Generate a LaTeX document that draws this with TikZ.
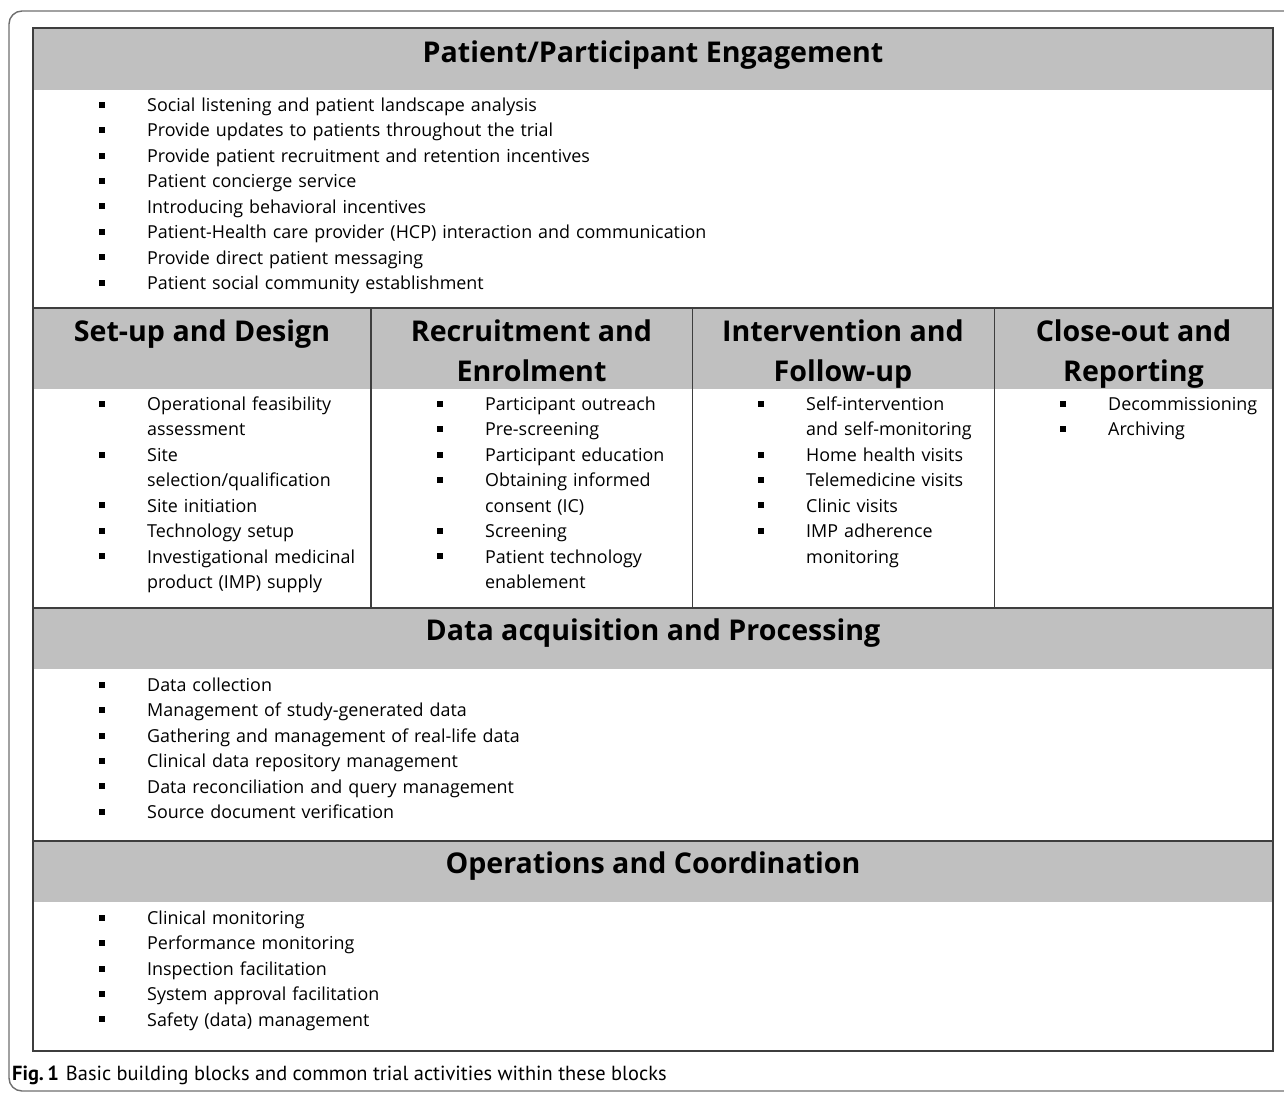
\documentclass[tikz,border=0pt]{standalone}
\usepackage{fontspec}
\setmainfont{Open Sans}
\newfontfamily\capfont{PT Sans}
\usetikzlibrary{positioning}

\definecolor{bandgray}{RGB}{192,192,192}
\definecolor{rulegray}{RGB}{62,62,62}
\definecolor{framegray}{RGB}{110,110,110}

\newcommand{\headfont}{\bfseries\fontsize{28.6}{40}\selectfont}
\newcommand{\itemfont}{\fontsize{17.9}{25.45}\selectfont}
\newcommand{\itm}[1]{\par\noindent\strut\llap{\raisebox{3.7pt}{\rule{6pt}{6pt}}\hspace{42.5pt}}#1}

\begin{document}
\begin{tikzpicture}[x=1pt,y=-1pt,
    band/.style={fill=bandgray},
    rule/.style={draw=rulegray, line width=1.6pt},
    head/.style={font=\headfont, align=center, inner sep=0pt, anchor=north},
    items/.style={font=\itemfont, align=left, text width=#1, inner sep=0pt, anchor=north west}]
    % Page size and outer frame
    \useasboundingbox (0,0) rectangle (1284,1092);
    \clip (0,0) rectangle (1284,1092);
    \draw[framegray, line width=1.4pt, rounded corners=13pt] (9,11) rectangle (1310,1091);

    % Grey header bands
    \fill[band] (33,28) rectangle (1273,90);
    \fill[band] (33,308) rectangle (1273,389);
    \fill[band] (33,608) rectangle (1273,669);
    \fill[band] (33,841) rectangle (1273,902);

    % Table rules
    \draw[rule] (33,28) rectangle (1273,1051);
    \draw[rule] (33,308) -- (1273,308);
    \draw[rule] (33,608) -- (1273,608);
    \draw[rule] (33,841) -- (1273,841);
    \foreach \x in {371,692.5,994.5}
        \draw[rule] (\x,308) -- (\x,608);

    % Block headings
    \node[head] (engage) at (653,34) {\strut Patient/Participant Engagement};
    \node[head] (setup) at (202,313) {\strut Set-up and Design};
    \node[head] (recruit) at (531.5,313) {\strut Recruitment and\\Enrolment};
    \node[head] (interv) at (843,313) {\strut Intervention and\\Follow-up};
    \node[head] (closeout) at (1133.5,313) {\strut Close-out and\\Reporting};
    \node[head] (dataacq) at (653,612) {\strut Data acquisition and Processing};
    \node[head] (operations) at (653,845) {\strut Operations and Coordination};

    % Activities within the blocks
    \node[items=900pt] (engageitems) at (147,85.7) {%
        \itm{Social listening and patient landscape analysis}
        \itm{Provide updates to patients throughout the trial}
        \itm{Provide patient recruitment and retention incentives}
        \itm{Patient concierge service}
        \itm{Introducing behavioral incentives}
        \itm{Patient-Health care provider (HCP) interaction and communication}
        \itm{Provide direct patient messaging}
        \itm{Patient social community establishment}};
    \node[items=300pt] (setupitems) at (147,384.7) {%
        \itm{Operational feasibility\newline assessment}
        \itm{Site\newline selection/qualification}
        \itm{Site initiation}
        \itm{Technology setup}
        \itm{Investigational medicinal\newline product (IMP) supply}};
    \node[items=300pt] (recruititems) at (485,384.7) {%
        \itm{Participant outreach}
        \itm{Pre-screening}
        \itm{Participant education}
        \itm{Obtaining informed\newline consent (IC)}
        \itm{Screening}
        \itm{Patient technology\newline enablement}};
    \node[items=300pt] (intervitems) at (806,384.7) {%
        \itm{Self-intervention\newline and self-monitoring}
        \itm{Home health visits}
        \itm{Telemedicine visits}
        \itm{Clinic visits}
        \itm{IMP adherence\newline monitoring}};
    \node[items=200pt] (closeitems) at (1108,384.7) {%
        \itm{Decommissioning}
        \itm{Archiving}};
    \node[items=900pt] (dataitems) at (147,665.7) {%
        \itm{Data collection}
        \itm{Management of study-generated data}
        \itm{Gathering and management of real-life data}
        \itm{Clinical data repository management}
        \itm{Data reconciliation and query management}
        \itm{Source document verification}};
    \node[items=900pt] (opsitems) at (147,898.7) {%
        \itm{Clinical monitoring}
        \itm{Performance monitoring}
        \itm{Inspection facilitation}
        \itm{System approval facilitation}
        \itm{Safety (data) management}};

    % Caption
    \node[anchor=base west, inner sep=0pt, font=\capfont\fontsize{20.4}{24}\selectfont] (caption) at (12,1080)
        {\textbf{Fig.\,1}\hspace{7pt}Basic building blocks and common trial activities within these blocks};
\end{tikzpicture}
\end{document}
